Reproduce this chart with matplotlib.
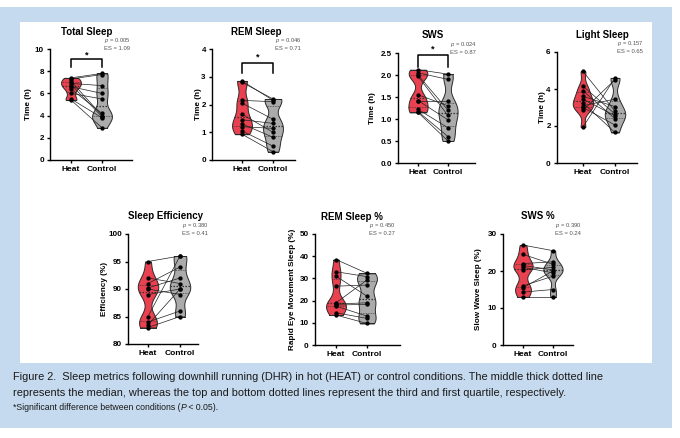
import numpy as np
import matplotlib
matplotlib.use("Agg")
import matplotlib.pyplot as plt
from matplotlib.patches import Rectangle

plt.rcParams["font.family"] = ["Liberation Sans", "DejaVu Sans"]
plt.rcParams["mathtext.fontset"] = "custom"
plt.rcParams["mathtext.it"] = "Liberation Sans:italic"
plt.rcParams["mathtext.rm"] = "Liberation Sans"

W, H, DPI = 680, 438, 100

# ---------------- data (paired: index i of heat <-> index i of control) ----------------
conditions = ["Heat", "Control"]

total_heat = [7.4, 7.3, 7.1, 6.9, 6.8, 6.6, 6.4, 6.0, 5.5, 5.4]
total_ctrl = [7.8, 7.7, 4.0, 6.7, 3.9, 6.0, 4.2, 5.5, 3.8, 2.9]

rem_heat = [2.85, 2.8, 2.15, 2.05, 1.65, 1.45, 1.3, 1.2, 1.05, 0.93]
rem_ctrl = [2.15, 2.2, 2.1, 1.47, 1.0, 1.32, 0.82, 1.14, 0.5, 0.3]

sws_heat = [2.12, 2.05, 2.0, 1.97, 1.55, 1.42, 1.4, 1.22, 1.17, 1.15]
sws_ctrl = [2.02, 1.9, 1.2, 1.08, 1.3, 0.98, 1.4, 0.8, 0.6, 0.5]

light_heat = [4.95, 4.15, 3.9, 3.6, 3.45, 3.25, 3.1, 3.0, 2.85, 1.95]
light_ctrl = [2.8, 2.65, 2.4, 3.05, 2.55, 1.65, 3.45, 2.05, 4.5, 4.6]

eff_heat = [95, 92, 91, 90.2, 90, 89, 85, 84, 83.5, 83]
eff_ctrl = [96, 91, 94, 92, 89, 90, 96, 86, 90, 85]

remp_heat = [38.5, 33, 31, 26.5, 19, 18.5, 18, 17.5, 14.5, 13.5]
remp_ctrl = [32.3, 30.8, 22, 27, 29.3, 19, 18.3, 13, 12, 9.7]

swsp_heat = [27, 24.5, 22, 21.5, 21, 20.3, 16, 15.5, 14.3, 13]
swsp_ctrl = [25.5, 21.8, 22.5, 20.3, 19.5, 21, 18.6, 20, 15, 13]

titles = ["Total Sleep", "REM Sleep", "SWS", "Light Sleep",
          "Sleep Efficiency", "REM Sleep %", "SWS %"]
ylabels = ["Time (h)", "Time (h)", "Time (h)", "Time (h)",
           "Efficiency (%)", "Rapid Eye Movement Sleep (%)", "Slow Wave Sleep (%)"]
p_values = ["0.005", "0.046", "0.024", "0.157", "0.380", "0.450", "0.390"]
es_values = ["1.09", "0.71", "0.87", "0.65", "0.41", "0.27", "0.24"]
significant = [True, True, True, False, False, False, False]
yticks = [[0, 2, 4, 6, 8, 10], [0, 1, 2, 3, 4], [0.0, 0.5, 1.0, 1.5, 2.0, 2.5],
          [0, 2, 4, 6], [80, 85, 90, 95, 100], [0, 10, 20, 30, 40, 50], [0, 10, 20, 30]]
ytick_fmt = ["{:.0f}", "{:.0f}", "{:.1f}", "{:.0f}", "{:.0f}", "{:.0f}", "{:.0f}"]
series = [(total_heat, total_ctrl), (rem_heat, rem_ctrl), (sws_heat, sws_ctrl),
          (light_heat, light_ctrl), (eff_heat, eff_ctrl), (remp_heat, remp_ctrl),
          (swsp_heat, swsp_ctrl)]

# ---------------- layout (pixel geometry) ----------------
layout = [
    dict(l=50, r=132, hx=71, cx=102, b=160, t=49, tx=87, ty=32, lx=28, br=(9.1, 8.4, 9.45)),
    dict(l=212, r=295, hx=242, cx=273, b=160, t=49, tx=256, ty=32, lx=198, br=(3.5, 3.12, 3.72)),
    dict(l=398, r=475, hx=418, cx=448, b=163, t=53, tx=433, ty=35, lx=372, br=(2.45, 2.19, 2.58)),
    dict(l=557, r=637, hx=583, cx=615, b=163, t=52, tx=602, ty=35, lx=542, br=None),
    dict(l=128, r=198, hx=148, cx=180, b=344, t=234, tx=166, ty=216, lx=104, br=None),
    dict(l=315, r=400, hx=336, cx=367, b=345, t=234, tx=352, ty=217, lx=293, br=None),
    dict(l=503, r=573, hx=523, cx=553, b=345, t=234, tx=538, ty=216, lx=479, br=None),
]

RED = "#ea4150"
GREY = "#ababab"
EDGE = "#2a2a2a"


def fx(px):
    return px / W


def fy(py):
    return 1 - py / H


def violin(ax, x0, vals, color):
    v = np.asarray(vals, float)
    lo, hi = v.min(), v.max()
    ys = np.linspace(lo, hi, 300)
    bw = 0.55 * 1.06 * v.std(ddof=1) * len(v) ** (-0.2)
    dens = np.exp(-0.5 * ((ys[:, None] - v[None, :]) / bw) ** 2).sum(axis=1)
    half = dens / dens.max() * 0.32
    ax.fill_betweenx(ys, x0 - half, x0 + half, facecolor=color, edgecolor=EDGE,
                     linewidth=0.7, zorder=2)
    ax.plot([x0 - half[0], x0 + half[0]], [lo, lo], color=EDGE, lw=0.7, zorder=2)
    ax.plot([x0 - half[-1], x0 + half[-1]], [hi, hi], color=EDGE, lw=0.7, zorder=2)
    q1, med, q3 = np.percentile(v, [25, 50, 75])
    for q, lw in ((q1, 0.5), (med, 0.9), (q3, 0.5)):
        h = np.interp(q, ys, half)
        ax.plot([x0 - h, x0 + h], [q, q], color="#333333", lw=lw,
                ls=(0, (1.2, 1.2)), zorder=3)


fig = plt.figure(figsize=(W / DPI, H / DPI), dpi=DPI)
fig.patch.set_facecolor("white")
fig.patches.append(Rectangle((fx(0), fy(428)), fx(672), (428 - 7) / H,
                             transform=fig.transFigure, facecolor="#c6daef",
                             edgecolor="none", zorder=-10))
fig.patches.append(Rectangle((fx(20), fy(363)), (652 - 20) / W, (363 - 22) / H,
                             transform=fig.transFigure, facecolor="white",
                             edgecolor="none", zorder=-9))

for i, L in enumerate(layout):
    heat, ctrl = series[i]
    ax = fig.add_axes([fx(L["l"]), fy(L["b"]), (L["r"] - L["l"]) / W, (L["b"] - L["t"]) / H])
    ax.set_facecolor("none")
    s = L["cx"] - L["hx"]
    ax.set_xlim((L["l"] - L["hx"]) / s, (L["r"] - L["hx"]) / s)
    yt = yticks[i]
    ax.set_ylim(yt[0], yt[-1])
    ax.set_yticks(yt)
    ax.set_yticklabels([ytick_fmt[i].format(t) for t in yt], fontweight="bold", fontsize=5.8)
    xpos = np.arange(len(conditions))
    ax.set_xticks(xpos)
    ax.set_xticklabels(conditions, fontweight="bold", fontsize=6.0)
    for sp in ("top", "right"):
        ax.spines[sp].set_visible(False)
    for sp in ("left", "bottom"):
        ax.spines[sp].set_linewidth(1.0)
    ax.tick_params(length=2.5, width=1.0, pad=2)

    violin(ax, xpos[0], heat, RED)
    violin(ax, xpos[1], ctrl, GREY)
    for a, b in zip(heat, ctrl):
        ax.plot([xpos[0], xpos[1]], [a, b], color="#222222", lw=0.5, zorder=4)
    ax.plot(np.full(len(heat), xpos[0]), heat, "o", ms=2.1, color="black", zorder=5)
    ax.plot(np.full(len(ctrl), xpos[1]), ctrl, "o", ms=2.1, color="black", zorder=5)

    if significant[i]:
        y1, y0, ys = L["br"]
        ax.plot([xpos[0], xpos[0], xpos[1], xpos[1]], [y0, y1, y1, y0], color="black",
                lw=1.1, clip_on=False, zorder=6)
        ax.text(0.5, ys, "*", ha="center", va="center", fontsize=6.5, fontweight="bold",
                clip_on=False)

    ax.annotate("$p$ = " + p_values[i] + "\nES = " + es_values[i],
                xy=(xpos[1], yt[-1]), xycoords="data", xytext=(1.5, 4),
                textcoords="offset points", fontsize=4.2, color="#555555",
                ha="left", va="center", linespacing=1.15)

    fig.text(fx(L["tx"]), fy(L["ty"]), titles[i], ha="center", va="center",
             fontsize=7.0, fontweight="bold")
    ax.set_ylabel(ylabels[i], fontsize=5.9, fontweight="bold")
    ax.yaxis.set_label_coords((L["lx"] - L["l"]) / (L["r"] - L["l"]), 0.5)
    ax.yaxis.label.set_verticalalignment("center")

cap_font = ["Liberation Sans Narrow", "Liberation Sans", "DejaVu Sans"]
fig.text(fx(13), fy(377),
         "Figure 2.  Sleep metrics following downhill running (DHR) in hot (HEAT) or control conditions. The middle thick dotted line",
         fontsize=7.9, family=cap_font, va="center", ha="left", color="#1a1a1a")
fig.text(fx(13), fy(393),
         "represents the median, whereas the top and bottom dotted lines represent the third and first quartile, respectively.",
         fontsize=7.9, family=cap_font, va="center", ha="left", color="#1a1a1a")
t3 = fig.text(fx(13), fy(408),
              "*Significant difference between conditions (",
              fontsize=6.3, family=cap_font, va="center", ha="left", color="#1a1a1a")
fig.canvas.draw()
bb = t3.get_window_extent()
t4 = fig.text(bb.x1 / W, fy(408), "P", fontsize=6.3, family=cap_font, style="italic",
              va="center", ha="left", color="#1a1a1a")
fig.canvas.draw()
bb2 = t4.get_window_extent()
fig.text(bb2.x1 / W, fy(408), " < 0.05).", fontsize=6.3, family=cap_font,
         va="center", ha="left", color="#1a1a1a")

fig.savefig("out.png", dpi=DPI, facecolor=fig.get_facecolor())
